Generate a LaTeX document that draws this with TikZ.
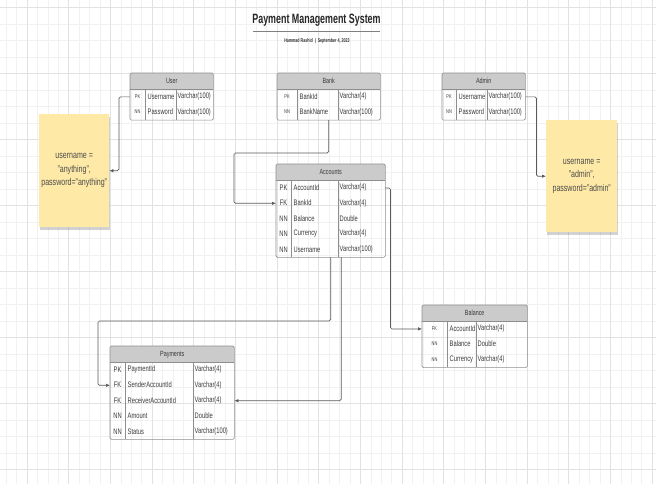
\documentclass[tikz,border=0pt]{standalone}
\usepackage{fontspec}
\setmainfont{Liberation Sans}[FakeStretch=0.72]
\newfontfamily\titlefont{Liberation Sans}[FakeStretch=0.66]
\usetikzlibrary{arrows.meta,shadows}
\definecolor{gridminor}{HTML}{F1F1F1}
\definecolor{gridmajor}{HTML}{E2E2E2}
\definecolor{hdrfill}{HTML}{CBCBCB}
\definecolor{tblline}{HTML}{8E8E8E}
\definecolor{txt}{HTML}{3A3A3A}
\definecolor{notefill}{HTML}{FEE9A6}
\definecolor{connc}{HTML}{5A5A5A}
\tikzset{
  hdr/.style={fill=hdrfill, inner sep=0, anchor=north west, text=txt, font=\fontsize{7.5}{9}\selectfont},
  rowbox/.style={inner sep=0, anchor=north west},
  keyS/.style={text=txt, font=\fontsize{5.5}{6}\selectfont, inner sep=0},
  keyL/.style={text=txt, font=\fontsize{8}{9}\selectfont, inner sep=0},
  cell/.style={text=txt, font=\fontsize{8}{9}\selectfont, inner sep=0, anchor=west},
  border/.style={draw=tblline, line width=0.6pt, rounded corners=1.5pt},
  divline/.style={draw=tblline, line width=0.5pt},
  conn/.style={draw=connc, line width=0.7pt, rounded corners=1.5pt, -{Latex[length=4pt,width=3.5pt]}},
  sticky/.style={fill=notefill, inner sep=0, anchor=north west, align=center, text=black!70,
    font=\fontsize{9.8}{13.5}\selectfont,
    drop shadow={shadow xshift=1pt, shadow yshift=-2.5pt, opacity=0.35}},
}
% #1 name, #2 left, #3 top, #4 width, #5 header, #6 div1, #7 div2, #8 key style, #9 rows
\newcommand\ertable[9]{%
  \node[hdr, minimum width=#4, minimum height=16] (#1) at (#2,#3) {#5};
  \foreach \ka/\kb/\kc [count=\n] in {#9} {
    \node[rowbox, minimum width=#4, minimum height=15.4] (#1-\n) at ({#2},{#3+16+(\n-1)*15.4}) {};
    \node[#8] at ({(#2+#6)/2},{#3+16+(\n-0.5)*15.4}) {\ka};
    \node[cell] at ({#6+2.5},{#3+16+(\n-0.5)*15.4}) {\kb};
    \node[cell] at ({#7+1.5},{#3+16+(\n-0.5)*15.4}) {\kc};
    \xdef\lastrow{\n}
  }
  \draw[divline] (#1.south west) -- (#1.south east);
  \draw[divline] ({#6},{#3+16}) -- ({#6},{#3+16+\lastrow*15.4});
  \draw[divline] ({#7},{#3+16}) -- ({#7},{#3+16+\lastrow*15.4});
  \draw[border] (#1.north west) rectangle (#1-\lastrow.south east);
}
\begin{document}
\begin{tikzpicture}[x=1pt,y=-1pt]
\useasboundingbox (0,0) rectangle (656,484);
\fill[white] (0,0) rectangle (656,484);
% grid
\foreach \i in {0,...,62} \draw[gridminor, line width=0.5pt] ({6.17+10.4167*\i},0) -- ({6.17+10.4167*\i},484);
\foreach \i in {0,...,29} \draw[gridminor, line width=0.5pt] (0,{7.3+16.5*\i}) -- (656,{7.3+16.5*\i});
\foreach \i in {0,...,15} \draw[gridmajor, line width=0.6pt] ({27+41.667*\i},0) -- ({27+41.667*\i},484);
\foreach \i in {0,...,7} \draw[gridmajor, line width=0.6pt] (0,{7.3+66*\i}) -- (656,{7.3+66*\i});
% title
\node[font=\titlefont\bfseries\fontsize{13.5}{15}\selectfont, text=black!85, inner sep=0] (title) at (316.5,20) {Payment Management System};
\coordinate (ulA) at (253,31);
\coordinate (ulB) at (380,31);
\draw[gray, line width=0.9pt] (ulA) -- (ulB);
\node[font=\titlefont\bfseries\fontsize{5.5}{6}\selectfont, text=black!80, inner sep=0] (subtitle) at (317,41) {Hammad Rashid\ \ |\ \ September 4, 2023};
% tables
\ertable{user}{130}{73}{83}{User}{145}{176}{keyS}{PK/Username/Varchar(100), NN/Password/Varchar(100)}
\ertable{bank}{277}{73}{103}{Bank}{297}{338}{keyS}{PK/BankId/Varchar(4), NN/BankName/Varchar(100)}
\ertable{admin}{442}{73}{83}{Admin}{456}{487}{keyS}{PK/Username/Varchar(100), NN/Password/Varchar(100)}
\ertable{acc}{276}{164}{109}{Accounts}{291}{338}{keyL}{PK/AccountId/Varchar(4), FK/BankId/Varchar(4), NN/Balance/Double, NN/Currency/Varchar(4), NN/Username/Varchar(100)}
\ertable{bal}{422}{305}{105}{Balance}{447}{476}{keyS}{FK/AccountId/Varchar(4), NN/Balance/Double, NN/Currency/Varchar(4)}
\ertable{pay}{110}{346}{124}{Payments}{125}{193}{keyL}{PK/PaymentId/Varchar(4), FK/SenderAccountId/Varchar(4), FK/ReceiverAccountId/Varchar(4), NN/Amount/Double, NN/Status/Varchar(100)}
% sticky notes
\node[sticky, minimum width=70, minimum height=113] (note1) at (39,114) {username =\\"anything",\\password="anything"};
\node[sticky, minimum width=71, minimum height=112] (note2) at (546,120) {username =\\"admin",\\password="admin"};
% connectors
\coordinate (cb1) at (234,153);
\coordinate (ca2) at (98,321);
\draw[conn] (user-1.west) -- ++(-11,0) |- (note1.east);
\draw[conn] (admin-1.east) -- ++(11,0) |- (note2.west);
\draw[conn] (bank-2.south) |- (cb1) |- (acc-2.west);
\draw[conn] (acc-1.east) -- ++(5,0) |- (bal-1.west);
\draw[conn] (acc-5.south) |- (ca2) |- (pay-2.west);
\draw[conn] ([xshift=10.5pt]acc-5.south) |- (pay-3.east);
\end{tikzpicture}
\end{document}
